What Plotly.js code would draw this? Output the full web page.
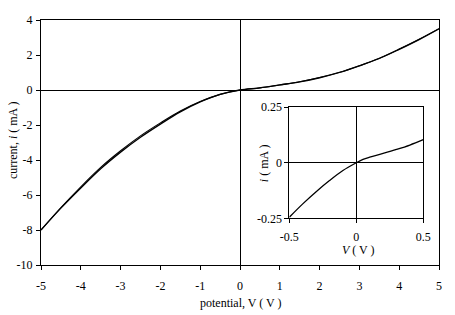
<!DOCTYPE html>
<html>
<head>
<meta charset="utf-8">
<script src="https://cdn.plot.ly/plotly-3.0.1.min.js"></script>
<style>html,body{margin:0;padding:0;background:#fff;}#chart{width:455px;height:315px;}</style>
</head>
<body>
<div id="chart"></div>
<script>
// Main sweep: potential (V) vs current (mA)
var potential = [-5,-4.5,-4,-3.5,-3,-2.5,-2,-1.5,-1,-0.5,0,0.5,1,1.5,2,2.5,3,3.5,4,4.5,5];
var currentFwd = [-8.0,-6.75,-5.6,-4.5,-3.55,-2.7,-1.95,-1.25,-0.68,-0.25,0,0.12,0.29,0.46,0.7,1.0,1.38,1.8,2.32,2.88,3.5];
var currentRev = [-8.0,-6.72,-5.53,-4.42,-3.47,-2.62,-1.88,-1.2,-0.66,-0.25,0,0.12,0.29,0.47,0.71,1.01,1.39,1.82,2.34,2.9,3.5];
// Inset: low-voltage region
var insetV = [-0.5,-0.4,-0.3,-0.2,-0.1,0,0.05,0.1,0.2,0.3,0.4,0.5];
var insetI = [-0.245,-0.185,-0.13,-0.08,-0.035,0,0.015,0.025,0.042,0.06,0.08,0.104];
// Tick labels
var mainXTicks = [-5,-4,-3,-2,-1,0,1,2,3,4,5];
var mainXText = ["-5","-4","-3","-2","-1","0","1","2","3","4","5"];
var mainYTicks = [4,2,0,-2,-4,-6,-8,-10];
var mainYText = ["4","2","0","-2","-4","-6","-8","-10"];
var insetXTicks = [-0.5,0,0.5];
var insetXText = ["-0.5","0","0.5"];
var insetYTicks = [0.25,0,-0.25];
var insetYText = ["0.25","0","-0.25"];

var FONT = "Liberation Serif, Times New Roman, serif";
var traces = [
  {x: potential, y: currentFwd, mode: "lines", line: {color: "#000", width: 1.3, shape: "spline"}, xaxis: "x", yaxis: "y", hoverinfo: "none"},
  {x: potential, y: currentRev, mode: "lines", line: {color: "#000", width: 1.1, shape: "spline"}, xaxis: "x", yaxis: "y", hoverinfo: "none"},
  {x: insetV, y: insetI, mode: "lines", line: {color: "#000", width: 1.3, shape: "spline"}, xaxis: "x2", yaxis: "y2", hoverinfo: "none"}
];

var axisCommon = {
  showgrid: false, zeroline: true, zerolinecolor: "#000", zerolinewidth: 1,
  showline: true, linecolor: "#000", linewidth: 1, mirror: true,
  ticks: "outside", ticklen: 4, tickcolor: "#000", tickwidth: 1,
  tickmode: "array", tickfont: {family: FONT, size: 12, color: "#000"}
};

var layout = {
  width: 455, height: 315,
  margin: {l: 41, r: 16, t: 20, b: 50},
  paper_bgcolor: "#fff", plot_bgcolor: "#fff",
  showlegend: false,
  font: {family: FONT, size: 12, color: "#000"},
  xaxis: Object.assign({}, axisCommon, {range: [-5, 5], tickvals: mainXTicks, ticktext: mainXText, domain: [0, 1], ticklabelstandoff: 6}),
  yaxis: Object.assign({}, axisCommon, {range: [-10, 4], tickvals: mainYTicks, ticktext: mainYText, domain: [0, 1], ticklabelstandoff: 1}),
  xaxis2: Object.assign({}, axisCommon, {range: [-0.5, 0.5], tickvals: insetXTicks, ticktext: insetXText, domain: [0.624, 0.9605], anchor: "y2", ticklabelstandoff: 3}),
  yaxis2: Object.assign({}, axisCommon, {range: [-0.25, 0.25], tickvals: insetYTicks, ticktext: insetYText, domain: [0.1906, 0.6437], anchor: "x2", ticklabelstandoff: 0}),
  annotations: [
    {text: "potential, V ( V )", xref: "paper", yref: "paper", x: 0.5, y: 0, xanchor: "center", yanchor: "middle", yshift: -38, showarrow: false, font: {family: FONT, size: 12, color: "#000"}},
    {text: "current, <i>i</i> ( mA )", xref: "paper", yref: "paper", x: 0, y: 0.51, xanchor: "center", yanchor: "middle", xshift: -28, textangle: -90, showarrow: false, font: {family: FONT, size: 12, color: "#000"}},
    {text: "<i>V</i> ( V )", xref: "paper", yref: "paper", x: 0.7965, y: 0.1906, xanchor: "center", yanchor: "middle", yshift: -32, showarrow: false, font: {family: FONT, size: 12, color: "#000"}},
    {text: "<i>i</i> ( mA )", xref: "paper", yref: "paper", x: 0.624, y: 0.4172, xanchor: "center", yanchor: "middle", xshift: -26, textangle: -90, showarrow: false, font: {family: FONT, size: 12, color: "#000"}}
  ]
};

Plotly.newPlot("chart", traces, layout, {staticPlot: true, displayModeBar: false});
</script>
</body>
</html>
